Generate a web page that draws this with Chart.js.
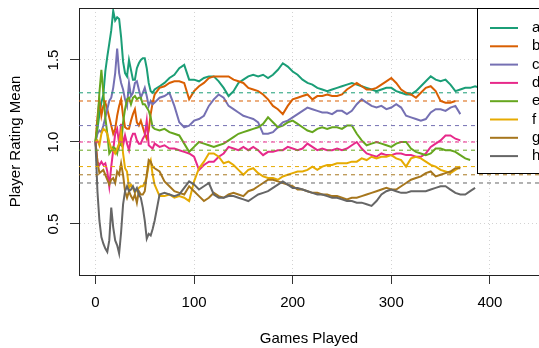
<!DOCTYPE html>
<html>
<head>
<meta charset="utf-8">
<script src="https://cdn.jsdelivr.net/npm/chart.js@4.4.1/dist/chart.umd.min.js"></script>
<style>
    html, body { margin: 0; padding: 0; background: #fff; overflow: hidden; }
    canvas { display: block; }
</style>
</head>
<body>
<canvas id="myChart" width="539" height="348"></canvas>
<script>
//
// DATA
//
const games = [0, 2, 4, 6, 8, 10, 12, 14, 16, 18, 20, 22, 24, 26, 28, 30, 32, 34, 36, 38, 40, 42, 44, 46, 48, 50, 52, 54, 56, 58, 60,
    65, 70, 75, 80, 85, 90, 95, 100, 105, 110, 115, 120, 125, 130, 135, 140, 145, 150, 155, 160, 165, 170, 175, 180, 185, 190, 195,
    200, 205, 210, 215, 220, 225, 230, 235, 240, 245, 250, 255, 260, 265, 270, 275, 280, 285, 290, 295, 300, 305, 310, 315, 320,
    325, 330, 335, 340, 345, 350, 355, 360, 365, 370, 375, 380, 385, 390];

const seriesA = [1.00, 1.08, 1.17, 1.24, 1.29, 1.43, 1.52, 1.60, 1.68, 1.80, 1.74, 1.76, 1.75, 1.64, 1.49, 1.42, 1.40, 1.50, 1.44, 1.38, 1.38, 1.45, 1.48, 1.50, 1.51, 1.51, 1.45, 1.36, 1.31, 1.30, 1.32,
    1.34, 1.36, 1.39, 1.41, 1.45, 1.47, 1.38, 1.38, 1.37, 1.39, 1.40, 1.40, 1.37, 1.33, 1.28, 1.31, 1.36, 1.38, 1.40, 1.41, 1.40, 1.41, 1.39, 1.41, 1.44, 1.48, 1.46,
    1.43, 1.41, 1.38, 1.36, 1.35, 1.33, 1.32, 1.31, 1.32, 1.33, 1.34, 1.35, 1.36, 1.35, 1.34, 1.33, 1.32, 1.31, 1.32, 1.33, 1.33, 1.31, 1.30, 1.29, 1.29,
    1.31, 1.34, 1.37, 1.40, 1.38, 1.37, 1.38, 1.35, 1.31, 1.32, 1.33, 1.33, 1.34, 1.33];
const seriesB = [1.00, 1.15, 1.26, 1.16, 1.22, 1.24, 1.20, 1.15, 1.10, 1.05, 1.08, 1.16, 1.22, 1.26, 1.16, 1.09, 1.08, 1.08, 1.13, 1.17, 1.20, 1.12, 1.10, 1.13, 1.09, 1.05, 1.02, 1.07, 1.17, 1.24, 1.29,
    1.33, 1.34, 1.36, 1.37, 1.37, 1.36, 1.26, 1.31, 1.34, 1.36, 1.39, 1.40, 1.40, 1.40, 1.40, 1.38, 1.37, 1.36, 1.33, 1.32, 1.31, 1.29, 1.26, 1.22, 1.20, 1.17, 1.22,
    1.26, 1.27, 1.28, 1.29, 1.26, 1.28, 1.28, 1.29, 1.28, 1.28, 1.29, 1.32, 1.34, 1.36, 1.34, 1.32, 1.32, 1.33, 1.35, 1.37, 1.39, 1.36, 1.32, 1.30, 1.29,
    1.27, 1.30, 1.33, 1.34, 1.31, 1.25, 1.24, 1.24, 1.25];
const seriesC = [1.00, 1.05, 1.07, 1.06, 1.10, 1.15, 1.20, 1.25, 1.27, 1.33, 1.42, 1.57, 1.42, 1.36, 1.32, 1.26, 1.22, 1.36, 1.28, 1.30, 1.36, 1.37, 1.32, 1.27, 1.30, 1.33, 1.28, 1.22, 1.25, 1.23, 1.24,
    1.27, 1.28, 1.30, 1.22, 1.12, 1.09, 1.10, 1.13, 1.14, 1.16, 1.22, 1.26, 1.29, 1.27, 1.22, 1.20, 1.18, 1.16, 1.15, 1.14, 1.12, 1.05, 1.05, 1.06, 1.09, 1.12, 1.13,
    1.15, 1.17, 1.19, 1.21, 1.20, 1.19, 1.18, 1.18, 1.17, 1.19, 1.19, 1.17, 1.19, 1.23, 1.26, 1.24, 1.22, 1.21, 1.22, 1.20, 1.21, 1.23, 1.21, 1.16, 1.15,
    1.14, 1.13, 1.14, 1.18, 1.20, 1.20, 1.19, 1.21, 1.22, 1.17];
const seriesD = [1.00, 0.88, 0.86, 0.88, 0.86, 0.87, 0.82, 0.73, 0.85, 0.95, 1.05, 1.08, 0.99, 1.11, 0.98, 1.04, 0.99, 0.95, 1.02, 1.05, 1.05, 1.01, 0.99, 0.99, 1.02, 1.04, 1.13, 0.98, 0.97, 0.96, 0.99,
    0.97, 0.98, 0.96, 0.96, 0.95, 0.94, 0.93, 0.91, 0.83, 0.86, 0.88, 0.88, 0.91, 0.93, 0.97, 0.96, 0.95, 0.97, 0.95, 0.97, 0.95, 0.92, 0.94, 0.94, 0.95, 0.95, 0.97,
    0.96, 0.95, 0.96, 0.99, 0.97, 0.95, 0.96, 0.95, 0.95, 0.96, 0.95, 0.96, 0.98, 1.00, 0.96, 0.93, 0.92, 0.91, 0.93, 0.92, 0.92, 0.93, 0.93, 0.92, 0.92,
    0.91, 0.91, 0.93, 0.97, 0.99, 1.01, 1.04, 1.04, 1.02, 1.01];
const seriesE = [1.00, 1.10, 1.30, 1.44, 1.30, 1.15, 1.05, 0.93, 0.95, 0.97, 0.96, 0.93, 0.99, 0.98, 1.12, 1.20, 1.26, 1.27, 1.23, 1.27, 1.28, 1.26, 1.27, 1.27, 1.23, 1.23, 1.21, 1.19, 1.15, 1.09, 1.08,
    1.07, 1.08, 1.06, 1.05, 1.04, 0.99, 0.94, 0.97, 1.00, 0.99, 0.98, 0.97, 0.98, 0.99, 1.01, 1.03, 1.05, 1.06, 1.07, 1.08, 1.09, 1.11, 1.15, 1.12, 1.09, 1.10, 1.12,
    1.13, 1.11, 1.09, 1.07, 1.06, 1.08, 1.09, 1.08, 1.09, 1.09, 1.08, 1.10, 1.10, 1.05, 1.01, 0.98, 0.99, 1.00, 0.99, 0.98, 0.97, 0.99, 1.00, 1.00, 0.96,
    0.94, 0.93, 0.92, 0.93, 0.96, 0.96, 0.95, 0.95, 0.94, 0.92, 0.90, 0.89];
const seriesF = [1.00, 1.01, 0.98, 1.05, 1.08, 1.07, 1.05, 1.00, 0.96, 0.95, 0.93, 0.96, 0.99, 1.06, 0.93, 0.84, 0.82, 0.72, 0.74, 0.72, 0.69, 0.71, 0.72, 0.73, 0.73, 0.75, 0.79, 0.86, 0.89, 0.80, 0.74,
    0.67, 0.67, 0.68, 0.66, 0.67, 0.66, 0.64, 0.76, 0.84, 0.88, 0.93, 0.93, 0.91, 0.87, 0.88, 0.86, 0.83, 0.80, 0.83, 0.84, 0.81, 0.79, 0.78, 0.78, 0.77, 0.79, 0.80,
    0.81, 0.82, 0.82, 0.83, 0.85, 0.83, 0.85, 0.86, 0.86, 0.87, 0.87, 0.87, 0.88, 0.88, 0.90, 0.89, 0.91, 0.90, 0.91, 0.91, 0.92, 0.90, 0.89, 0.85, 0.90,
    0.91, 0.90, 0.88, 0.86, 0.85, 0.83, 0.82, 0.81, 0.83, 0.85];
const seriesG = [1.00, 0.88, 0.81, 0.82, 0.83, 0.80, 0.77, 0.74, 0.77, 0.78, 0.75, 0.82, 0.80, 0.87, 0.80, 0.70, 0.66, 0.70, 0.67, 0.65, 0.68, 0.63, 0.70, 0.68, 0.68, 0.70, 0.80, 0.89, 0.88, 0.85, 0.84,
    0.82, 0.76, 0.73, 0.70, 0.69, 0.68, 0.73, 0.70, 0.67, 0.64, 0.66, 0.69, 0.67, 0.66, 0.68, 0.69, 0.68, 0.67, 0.70, 0.71, 0.73, 0.75, 0.77, 0.77, 0.76, 0.75, 0.74,
    0.73, 0.71, 0.71, 0.70, 0.69, 0.69, 0.68, 0.68, 0.67, 0.67, 0.66, 0.65, 0.66, 0.66, 0.67, 0.68, 0.69, 0.70, 0.71, 0.72, 0.71, 0.71, 0.73, 0.75, 0.77,
    0.78, 0.79, 0.81, 0.82, 0.79, 0.80, 0.81, 0.82, 0.84, 0.84];
const seriesH = [1.00, 0.70, 0.52, 0.42, 0.38, 0.35, 0.33, 0.40, 0.60, 0.48, 0.40, 0.37, 0.32, 0.45, 0.62, 0.70, 0.73, 0.70, 0.71, 0.73, 0.70, 0.72, 0.68, 0.66, 0.60, 0.52, 0.41, 0.44, 0.43, 0.47, 0.52,
    0.68, 0.69, 0.68, 0.67, 0.68, 0.72, 0.76, 0.74, 0.71, 0.73, 0.75, 0.68, 0.66, 0.66, 0.67, 0.67, 0.66, 0.65, 0.64, 0.66, 0.68, 0.69, 0.70, 0.72, 0.74, 0.76, 0.74,
    0.72, 0.72, 0.71, 0.70, 0.69, 0.68, 0.68, 0.67, 0.66, 0.66, 0.65, 0.64, 0.64, 0.63, 0.63, 0.62, 0.61, 0.64, 0.68, 0.70, 0.71, 0.70, 0.69, 0.69, 0.70,
    0.70, 0.70, 0.70, 0.71, 0.72, 0.73, 0.73, 0.71, 0.69, 0.68, 0.68, 0.70, 0.72];

const seriesNames = ['a', 'b', 'c', 'd', 'e', 'f', 'g', 'h'];
const targets = [1.30, 1.25, 1.10, 1.00, 0.95, 0.85, 0.80, 0.75];   // dashed reference lines
const colors = ['#1B9E77', '#D95F02', '#7570B3', '#E7298A', '#66A61E', '#E6AB02', '#A6761D', '#666666'];
const xTicks = [0, 100, 200, 300, 400];
const yTicks = [0.5, 1.0, 1.5];

const allSeries = [seriesA, seriesB, seriesC, seriesD, seriesE, seriesF, seriesG, seriesH];

const X_MIN = -16.7, X_MAX = 449.8;
const Y_MIN = 0.189, Y_MAX = 1.817;
const FONT = "'Liberation Sans', Arial, Helvetica, sans-serif";


//
// build datasets
//
let datasets = [];
for (let i = 0; i < allSeries.length; i++) {
    datasets.push({
        label: seriesNames[i],
        data: allSeries[i].map((v, k) => ({ x: games[k], y: v })),
        borderColor: colors[i],
        borderWidth: 2,
        pointRadius: 0,
        tension: 0,
        fill: false,
        order: 10 - i,   // later series on top, like R
    });
}
for (let i = 0; i < targets.length; i++) {
    datasets.push({
        label: 'target ' + seriesNames[i],
        data: [{ x: X_MIN, y: targets[i] }, { x: X_MAX, y: targets[i] }],
        borderColor: colors[i],
        borderWidth: 1,
        borderDash: [4, 4],
        pointRadius: 0,
        fill: false,
        order: 0,
        isTarget: true,
    });
}


//
// plugin: top frame line, rotated y labels, legend box
//
const extras = {
    id: 'extras',
    afterDraw(chart) {
        const ctx = chart.ctx;
        const area = chart.chartArea;
        const yScale = chart.scales.y;

        // top frame line
        ctx.save();
        ctx.strokeStyle = '#222';
        ctx.lineWidth = 1;
        ctx.beginPath();
        ctx.moveTo(area.left, area.top + 0.5);
        ctx.lineTo(area.right, area.top + 0.5);
        ctx.stroke();

        // y tick labels, vertical like R
        ctx.fillStyle = '#000';
        ctx.font = '15px ' + FONT;
        ctx.textAlign = 'center';
        ctx.textBaseline = 'alphabetic';
        yScale.ticks.forEach(t => {
            const py = yScale.getPixelForValue(t.value);
            ctx.save();
            ctx.translate(57.5, py);
            ctx.rotate(-Math.PI / 2);
            ctx.fillText(t.value.toFixed(1), 0, 0);
            ctx.restore();
        });

        // legend (top right, cut by the canvas edge)
        const bx = 477.5, by = 8.5, bh = 165;
        ctx.fillStyle = '#fff';
        ctx.fillRect(bx, by, 120, bh);
        ctx.strokeStyle = '#000';
        ctx.strokeRect(bx, by, 120, bh);
        ctx.textAlign = 'left';
        ctx.textBaseline = 'middle';
        for (let i = 0; i < seriesNames.length; i++) {
            const ly = 28 + i * 18.3;
            ctx.strokeStyle = colors[i];
            ctx.lineWidth = 2;
            ctx.beginPath();
            ctx.moveTo(490, ly);
            ctx.lineTo(518, ly);
            ctx.stroke();
            ctx.fillStyle = '#000';
            ctx.fillText(seriesNames[i], 532, ly);
        }
        ctx.restore();
    }
};


//
// CHART
//
var myChart = new Chart(document.getElementById('myChart').getContext('2d'), {
    type: 'line',
    data: { datasets: datasets },
    options: {
        responsive: false,
        animation: false,
        events: [],
        layout: { padding: { top: 8, right: 0, bottom: 0, left: 0 } },
        plugins: {
            legend: { display: false },
            tooltip: { enabled: false },
        },
        scales: {
            x: {
                type: 'linear',
                min: X_MIN,
                max: X_MAX,
                afterBuildTicks: s => { s.ticks = xTicks.map(v => ({ value: v })); },
                afterFit: s => { s.height = 73; },
                ticks: {
                    color: '#000',
                    font: { family: FONT, size: 15 },
                    padding: 10,
                    maxRotation: 0,
                    callback: v => String(v),
                },
                grid: {
                    color: '#D3D3D3',
                    lineWidth: 1,
                    tickLength: 9,
                    tickColor: '#333',
                    tickBorderDash: [],
                },
                border: { display: true, color: '#222', width: 1, dash: [1, 3] },
                title: {
                    display: true,
                    text: 'Games Played',
                    color: '#000',
                    font: { family: FONT, size: 15 },
                    padding: { top: 0, bottom: 0 },
                },
            },
            y: {
                type: 'linear',
                min: Y_MIN,
                max: Y_MAX,
                afterBuildTicks: s => { s.ticks = yTicks.map(v => ({ value: v })); },
                afterFit: s => { s.width = 79; },
                ticks: { display: false },
                grid: {
                    color: '#D3D3D3',
                    lineWidth: 1,
                    tickLength: 9,
                    tickColor: '#333',
                    tickBorderDash: [],
                },
                border: { display: true, color: '#222', width: 1, dash: [1, 3] },
                title: {
                    display: true,
                    text: 'Player Rating Mean',
                    color: '#000',
                    font: { family: FONT, size: 15 },
                    padding: { top: 7, bottom: 0 },
                },
            },
        },
    },
    plugins: [extras],
});
</script>
</body>
</html>
